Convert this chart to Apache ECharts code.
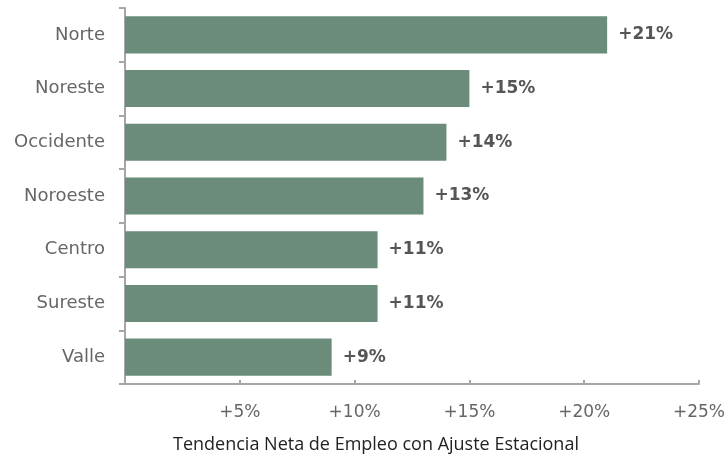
<!DOCTYPE html>
<html>
<head>
<meta charset="utf-8">
<script src="https://cdn.jsdelivr.net/npm/echarts@6/dist/echarts.min.js"></script>
<style>
html,body{margin:0;padding:0;background:#fff;}
#c{width:728px;height:462px;}
</style>
</head>
<body>
<div id="c"></div>
<script>
var categories = ["Norte", "Noreste", "Occidente", "Noroeste", "Centro", "Sureste", "Valle"];
var values = [21, 15, 14, 13, 11, 11, 9];
var xTicks = [0, 5, 10, 15, 20, 25];
var axisTitle = "Tendencia Neta de Empleo con Ajuste Estacional";

var chart = echarts.init(document.getElementById('c'));
chart.setOption({
  animation: false,
  grid: {left: 125, right: 28, top: 8, bottom: 78},
  xAxis: {
    type: 'value',
    min: xTicks[0],
    max: xTicks[xTicks.length - 1],
    interval: 5,
    splitLine: {show: false},
    axisLine: {show: true, lineStyle: {color: '#a6a6a6', width: 2}},
    axisTick: {show: true, inside: true, length: 4, lineStyle: {color: '#a6a6a6', width: 2}},
    axisLabel: {
      margin: 20,
      color: '#666',
      fontFamily: 'DejaVu Sans',
      fontSize: 17,
      formatter: function (v) { return v === 0 ? '' : '+' + v + '%'; }
    },
    name: axisTitle,
    nameLocation: 'middle',
    nameGap: 52,
    nameTextStyle: {color: '#222', fontFamily: 'Open Sans', fontSize: 18, padding: [0, 72, 0, 0]}
  },
  yAxis: {
    type: 'category',
    inverse: true,
    data: categories,
    axisLine: {show: true, lineStyle: {color: '#a6a6a6', width: 2}},
    axisTick: {show: true, length: 6, lineStyle: {color: '#a6a6a6', width: 2}},
    axisLabel: {margin: 20, color: '#666', fontFamily: 'DejaVu Sans', fontSize: 18}
  },
  series: [{
    type: 'bar',
    data: values,
    barCategoryGap: '31%',
    itemStyle: {color: '#6b8b7b'},
    label: {
      show: true,
      position: 'right',
      distance: 11,
      color: '#555',
      fontFamily: 'DejaVu Sans',
      fontWeight: 'bold',
      fontSize: 17,
      formatter: function (p) { return '+' + p.value + '%'; }
    }
  }]
});
</script>
</body>
</html>
